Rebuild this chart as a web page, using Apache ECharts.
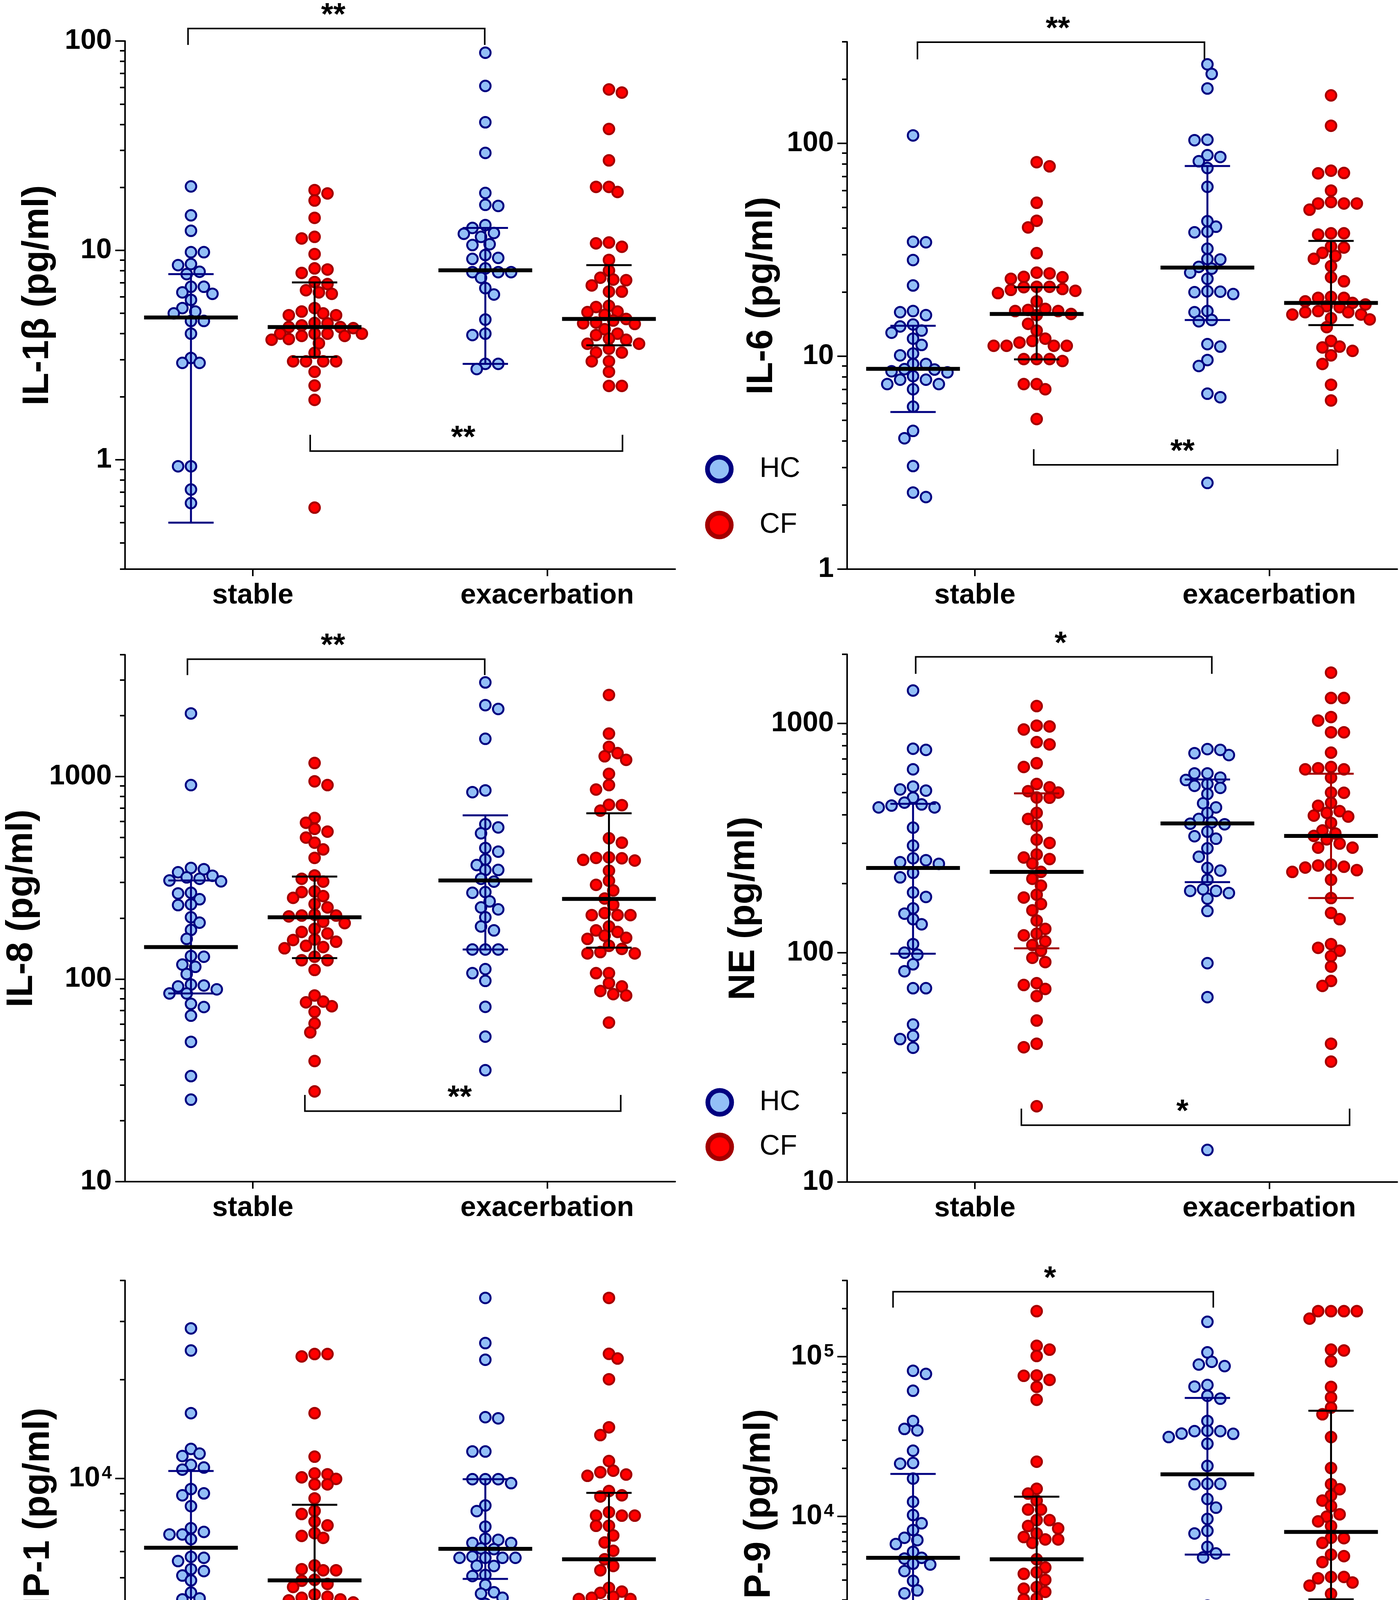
<!DOCTYPE html>
<html>
<head>
<meta charset="utf-8">
<script src="https://cdn.jsdelivr.net/npm/echarts@6/dist/echarts.min.js"></script>
<style>
html, body { margin: 0; padding: 0; background: #fff; }
#main { width: 3583px; height: 4722px; }
</style>
</head>
<body>
<div id="main"></div>
<script>
// categories
const groups = ['stable', 'exacerbation'];
const cohorts = ['HC', 'CF'];

// IL-1β (pg/ml)
const il1bHcStable = [20.2, 14.7, 12.4, 9.8, 9.8, 8.6, 8.5, 7.7, 7.9, 6.7, 6.3, 6.7, 6.2, 5.8, 5.3, 5.1, 5.0, 4.6, 4.6, 4.0, 3.06, 2.9, 2.9, 0.93, 0.93, 0.72, 0.62];
const il1bCfStable = [19.4, 18.7, 17.3, 14.3, 11.6, 11.4, 9.6, 8.1, 8.2, 7.8, 7.06, 6.9, 6.2, 6.45, 6.3, 5.3, 5.1, 4.9, 4.9, 5.0, 4.5, 4.48, 4.38, 4.25, 4.3, 4.3, 4.0, 4.0, 4.0, 4.0, 3.9, 3.9, 3.77, 3.74, 3.6, 3.24, 2.95, 2.95, 2.95, 2.95, 2.63, 2.26, 1.93, 0.59];
const il1bHcExac = [87.9, 61, 40.9, 29.2, 18.8, 16.5, 16.3, 12.8, 13.2, 12.1, 11.6, 12.0, 10.7, 10.6, 9.5, 9.1, 9.2, 8.2, 7.87, 7.87, 7.87, 7.4, 6.6, 6.15, 4.67, 4.0, 3.94, 2.87, 2.87, 2.71];
const il1bCfExac = [58.7, 56.7, 38.0, 26.9, 20.1, 20.1, 19.0, 10.9, 10.8, 10.4, 9.0, 8.0, 7.4, 6.8, 7.2, 7.25, 6.35, 6.35, 5.43, 5.36, 5.1, 5.07, 4.7, 4.92, 4.62, 4.52, 4.48, 4.45, 4.2, 3.94, 4.0, 3.79, 3.74, 3.58, 3.58, 3.39, 3.25, 3.25, 2.95, 2.95, 2.63, 2.25, 2.25];
// median and bar ends: HC stable, CF stable, HC exac, CF exac
const il1bMedian = [4.78, 4.3, 8.03, 4.7];
const il1bLow = [0.5, 3.1, 2.87, 3.52];
const il1bHigh = [7.7, 7.03, 12.8, 8.5];

// IL-6
const il6HcStable = [109, 34.5, 34.3, 28.3, 21.5, 16.3, 16.1, 15.6, 14.1, 13.8, 12.9, 13.2, 12.1, 11.3, 10.3, 10.1, 9.2, 9.2, 8.66, 8.4, 8.5, 8.7, 7.76, 8.06, 7.76, 7.4, 7.4, 7.0, 5.8, 4.46, 4.12, 3.05, 2.18, 2.29];
const il6CfStable = [81.6, 78, 52.6, 40.3, 43.3, 30.5, 24.7, 24.5, 23.1, 23.6, 23.5, 21.2, 21.2, 21.1, 19.8, 20.7, 20.3, 20.5, 18.1, 16.7, 16.5, 16.3, 16.3, 15.6, 15.8, 14.2, 13.2, 11.8, 12.1, 11.6, 11.2, 11.2, 11.2, 11.2, 9.7, 9.7, 9.7, 9.5, 7.4, 7.4, 7.0, 5.07];
const il6HcExac = [235, 212, 181, 103.5, 104, 86.3, 88, 82.4, 76.6, 62.5, 43.1, 40.6, 38.5, 38.2, 32, 28.5, 28.6, 25.8, 26.3, 24.7, 23.1, 20.0, 20.1, 20.2, 19.6, 16.3, 16.1, 14.8, 14.6, 11.4, 11.1, 9.6, 9.0, 6.67, 6.42, 2.54];
const il6CfExac = [168, 121, 74.4, 72.6, 72.3, 60, 53, 52.2, 52.2, 52.2, 48.8, 37.8, 37.8, 37.3, 30.6, 32.8, 32.4, 29.6, 28.7, 26.5, 23.5, 22.5, 18.8, 19.0, 18.8, 17.0, 18.1, 17.2, 17.5, 17.8, 15.7, 16.1, 16.1, 16.3, 15.7, 14.9, 15.1, 13.7, 11.8, 11.0, 10.6, 11.1, 10.1, 9.2, 7.35, 6.2];
const il6Median = [8.73, 15.8, 26.1, 17.8];
const il6Low = [5.47, 9.67, 14.8, 14.0];
const il6High = [13.9, 21.1, 78.3, 34.8];

// IL-8
const il8HcStable = [2051, 908, 354, 349, 337, 313, 318, 324, 304, 307, 265, 267, 248, 232, 234, 202, 190, 175, 158, 130, 129, 115, 118, 106, 92, 93, 94, 89, 85, 85, 72.8, 75.5, 66, 49, 33.2, 25.4];
const il8CfStable = [1167, 908, 948, 625, 592, 552, 535, 500, 472, 437, 397, 325, 313, 303, 271, 269, 257, 252, 235, 226, 208, 204, 206, 206, 192, 189, 177, 168, 171, 157, 156, 153, 144, 146, 142, 129, 124, 124, 111, 83, 73.5, 77.5, 76.8, 69, 60.4, 54.6, 39.4, 27.9];
const il8HcExac = [2917, 2254, 2158, 1537, 838, 855, 582, 561, 525, 444, 426, 390, 366, 346, 346, 313, 303, 267, 269, 242, 226, 221, 202, 182, 174, 140, 140, 140, 112, 107, 98, 73, 52, 35.5];
const il8CfExac = [2530, 1630, 1403, 1306, 1260, 1210, 1032, 908, 863, 726, 723, 679, 496, 472, 399, 385, 397, 388, 395, 343, 306, 292, 274, 250, 233, 212, 207, 207, 207, 174, 182, 171, 158, 164, 160, 146, 141, 134, 134, 136, 107, 107, 92, 95.5, 87.4, 83, 84.3, 61];
const il8Median = [144, 202, 307, 249];
const il8Low = [85, 127, 140, 143];
const il8High = [307, 321, 644, 659];

// NE
const neHcStable = [1390, 766, 775, 630, 530, 515, 509, 474, 443, 430, 451, 430, 438, 351, 293, 248, 244, 253, 258, 223, 213, 183, 175, 156, 148, 140, 133, 109, 100, 98, 89, 83, 70, 70, 48.6, 43.4, 42, 38.5];
const neCfStable = [1189, 940, 977, 969, 809, 828, 670, 645, 544, 526, 506, 499, 475, 474, 407, 383, 358, 311, 301, 268, 260, 256, 245, 225, 210, 196, 179, 174, 163, 153, 138, 127, 121, 119, 112, 108, 102, 95, 91, 72.3, 73.6, 64.7, 69.5, 50.6, 40.1, 38.7, 21.4];
const neHcExac = [741, 727, 772, 766, 605, 605, 580, 566, 544, 534, 523, 492, 448, 430, 407, 383, 365, 363, 370, 337, 322, 314, 285, 262, 228, 234, 208, 172, 189, 186, 186, 182, 152, 90, 64, 13.8];
const neCfExac = [1664, 1290, 1290, 1065, 1028, 914, 914, 745, 637, 645, 630, 630, 580, 498, 499, 450, 437, 414, 407, 396, 392, 368, 341, 323, 331, 312, 299, 287, 287, 229, 237, 235, 240, 242, 225, 208, 173, 149, 140, 109, 105, 102, 96.6, 87, 75.3, 71.6, 40.1, 33.5];
const neMedian = [234, 225, 366, 323];
const neLow = [99, 104.5, 203, 173];
const neHigh = [446, 495, 569, 603];

// TIMP-1
const timpHcStable = [28600, 24500, 15800, 12300, 11900, 11700, 11000, 10800, 10640, 9290, 8890, 9010, 8240, 7060, 6760, 6760, 6880, 6540, 5610, 5780, 5740, 5300, 5230, 5070, 4900, 4500, 4290, 4320, 3915, 3915, 3570, 3370, 3300, 3010, 2990, 2460];
const timpCfStable = [23900, 23900, 23500, 15800, 11650, 10300, 10360, 10080, 9970, 9600, 9600, 8700, 7800, 7970, 7400, 7200, 6820, 6690, 6600, 5440, 5300, 5260, 5260, 4890, 4920, 4680, 4780, 4440, 4290, 4340, 4370, 4260, 4200, 4055, 3980, 3810, 3665, 3590, 3590, 3470, 3100, 3120, 3150, 2840, 2740, 2655, 2700, 2500, 2120];
const timpHcExac = [35400, 25800, 22960, 15240, 15360, 12080, 12080, 9950, 9950, 9950, 9680, 8280, 7960, 7140, 6560, 6510, 6370, 6370, 6100, 6130, 5790, 5740, 5740, 5740, 5740, 5430, 5420, 5050, 5090, 4750, 4510, 4340, 4465, 4090, 4160, 2515, 1637, 1160];
const timpCfExac = [35400, 23930, 23160, 20030, 14310, 13550, 11300, 10560, 10450, 10190, 10280, 9160, 8820, 8890, 7900, 7710, 7710, 7710, 7180, 7180, 6710, 6390, 6030, 5680, 5420, 5260, 4650, 4530, 4490, 4340, 4370, 4300, 4300, 4110, 3705, 3433, 3548, 3415, 3350, 3215, 3110, 3135, 3060, 2923, 2820, 2735, 2445, 1290];
const timpMedian = [6160, 4900, 6110, 5680];
const timpLow = [4190, 3625, 4950, 3490];
const timpHigh = [10540, 8320, 9950, 9040];

// MMP-9
const mmpHcStable = [78000, 81600, 61200, 39600, 35300, 34600, 25800, 21400, 21600, 17260, 12360, 10200, 9060, 8220, 7350, 7110, 6720, 6000, 5450, 5510, 5000, 5060, 4550, 3950, 3445, 3300, 2360, 2400, 1600, 1327, 1349, 1219, 1165, 1064, 605, 496, 537];
const mmpCfStable = [192700, 117000, 110700, 101000, 71600, 76300, 75900, 64700, 53700, 22000, 14900, 13900, 12570, 11040, 11040, 9480, 9480, 8710, 8410, 7180, 7430, 7180, 7820, 6830, 5390, 4790, 4370, 4470, 4010, 3530, 3610, 3370, 3060, 3030, 1980, 1870, 1617, 1644, 1304, 1334, 1219, 1165, 935, 724, 762, 666, 424, 228, 157];
const mmpHcExac = [165300, 106400, 92900, 89300, 87300, 66500, 65000, 56900, 54600, 39600, 34400, 34200, 33000, 34200, 31400, 32900, 28500, 20700, 16000, 15920, 16000, 12850, 11350, 9640, 8130, 7820, 6450, 5540, 5870, 2765, 2470, 2510, 2145, 1634, 1420, 935];
const mmpCfExac = [192700, 192700, 192700, 192700, 173000, 110700, 109400, 93500, 64700, 55600, 48000, 43600, 31400, 20100, 15930, 14800, 13530, 12570, 11610, 10310, 9970, 9310, 8710, 7310, 7350, 6830, 5770, 5640, 5180, 4180, 4180, 4100, 3860, 3690, 3275, 2830, 2440, 2206, 2005, 1893, 1740, 1634, 1600, 1460, 1396, 962, 546];
const mmpMedian = [5510, 5390, 18360, 8000];
const mmpLow = [1537, 1617, 5770, 3030];
const mmpHigh = [18460, 13300, 55200, 45900];

const FONT = '"Liberation Sans", Arial, Helvetica, sans-serif';
const HC_FILL = '#93BFF6';
const HC_EDGE = '#000080';
const CF_FILL = '#FF0000';
const CF_EDGE = '#A30000';
const X_MIN = -0.434, X_MAX = 1.435;
const GRID_W = 1408;
const GROUP_X = [-0.21, 0.21, 0.79, 1.21];
const STEP = 11, DOT_GAP = 25;

const panels = [
  { title: 'IL-1β (pg/ml)', sets: [il1bHcStable, il1bCfStable, il1bHcExac, il1bCfExac], med: il1bMedian, lo: il1bLow, hi: il1bHigh,
    min: 0.3, max: 100, majors: [1, 10, 100], sup: false, left: 320, top: 105, height: 1352, nameGap: 176, cfBar: '#000',
    brackets: [{ x1: -0.22, x2: 0.788, y: 114.7, tick: 95.8, text: '**' }, { x1: 0.195, x2: 1.256, y: 1.099, tick: 1.316, text: '**' }] },
  { title: 'IL-6 (pg/ml)', sets: [il6HcStable, il6CfStable, il6HcExac, il6CfExac], med: il6Median, lo: il6Low, hi: il6High,
    min: 1, max: 300, majors: [1, 10, 100], sup: false, left: 2168, top: 107, height: 1350, nameGap: 171, cfBar: '#000',
    brackets: [{ x1: -0.195, x2: 0.78, y: 298.7, tick: 248, text: '**' }, { x1: 0.2, x2: 1.232, y: 3.09, tick: 3.66, text: '**' }],
    legend: { cx: 1841, cy: [1201, 1344], tx: 1944 } },
  { title: 'IL-8 (pg/ml)', sets: [il8HcStable, il8CfStable, il8HcExac, il8CfExac], med: il8Median, lo: il8Low, hi: il8High,
    min: 10, max: 4000, majors: [10, 100, 1000], sup: false, left: 320, top: 1676, height: 1349, nameGap: 217, cfBar: '#000',
    brackets: [{ x1: -0.222, x2: 0.788, y: 3802, tick: 3170, text: '**' }, { x1: 0.177, x2: 1.25, y: 22.3, tick: 26.8, text: '**' }] },
  { title: 'NE (pg/ml)', sets: [neHcStable, neCfStable, neHcExac, neCfExac], med: neMedian, lo: neLow, hi: neHigh,
    min: 10, max: 2000, majors: [10, 100, 1000], sup: false, left: 2168, top: 1675, height: 1351, nameGap: 217, cfBar: '#A30000',
    brackets: [{ x1: -0.201, x2: 0.805, y: 1950, tick: 1644, text: '*' }, { x1: 0.158, x2: 1.273, y: 17.7, tick: 20.9, text: '*' }],
    legend: { cx: 1842, cy: [2822, 2936], tx: 1944 } },
  { title: 'TIMP-1 (pg/ml)', sets: [timpHcStable, timpCfStable, timpHcExac, timpCfExac], med: timpMedian, lo: timpLow, hi: timpHigh,
    min: 1000, max: 40000, majors: [1000, 10000], sup: true, left: 320, top: 3278, height: 1349, nameGap: 174, cfBar: '#000',
    brackets: [] },
  { title: 'MMP-9 (pg/ml)', sets: [mmpHcStable, mmpCfStable, mmpHcExac, mmpCfExac], med: mmpMedian, lo: mmpLow, hi: mmpHigh,
    min: 150, max: 300000, majors: [1000, 10000, 100000], sup: true, left: 2168, top: 3278, height: 1350, nameGap: 177, cfBar: '#000',
    brackets: [{ x1: -0.278, x2: 0.81, y: 255000, tick: 202900, text: '*' }, { x1: 0.22, x2: 1.335, y: 186.6, tick: 234, text: '*' }],
    legend: { cx: 1903, cy: [4515, 4630], tx: 2006 } }
];

function minorTicks(min, max, majors) {
  const out = [];
  for (let e = Math.floor(Math.log10(min)); e <= Math.ceil(Math.log10(max)); e++) {
    for (let k = 1; k <= 9; k++) {
      const v = k * Math.pow(10, e);
      if (v >= min * 0.999 && v <= max * 1.001 && majors.indexOf(v) < 0) out.push(v);
    }
  }
  return out;
}

// GraphPad style column scatter: push dots sideways until they stop overlapping
function swarm(values, pxPerDec) {
  const order = values.map((v, i) => i).sort((a, b) => values[b] - values[a]);
  const placed = [];
  const out = [];
  let side = 1;
  order.forEach(i => {
    const y = Math.log10(values[i]) * pxPerDec;
    let x = null;
    for (let k = 0; x === null && k < 80; k++) {
      const cands = k === 0 ? [0] : [side * k * STEP, -side * k * STEP];
      for (const c of cands) {
        if (placed.every(p => (p.x - c) * (p.x - c) + (p.y - y) * (p.y - y) >= DOT_GAP * DOT_GAP)) { x = c; break; }
      }
    }
    if (x !== 0) side = x > 0 ? -1 : 1;
    placed.push({ x: x, y: y });
    out[i] = x;
  });
  return out;
}

function tickLabel(p) {
  return function (v) {
    const e = Math.round(Math.log10(v));
    if (p.sup) return '{b|10}{s|' + e + '}';
    return String(Math.round(v));
  };
}

const option = { animation: false, backgroundColor: '#fff', grid: [], xAxis: [], yAxis: [], series: [], graphic: [] };
const pxPerX = GRID_W / (X_MAX - X_MIN);

panels.forEach((p, i) => {
  option.grid.push({ left: p.left, top: p.top, width: GRID_W, height: p.height, containLabel: false, outerBoundsMode: 'none' });
  option.xAxis.push({
    type: 'value', gridIndex: i, min: X_MIN, max: X_MAX, splitLine: { show: false },
    axisLine: { onZero: false, lineStyle: { color: '#000', width: 4 } },
    axisTick: { customValues: [0, 1], length: 18, lineStyle: { color: '#000', width: 4 } },
    axisLabel: { customValues: [0, 1], formatter: v => groups[Math.round(v)], margin: 32, color: '#000', fontSize: 72, fontWeight: 'bold', fontFamily: FONT }
  });
  option.yAxis.push({
    type: 'log', logBase: 10, gridIndex: i, position: 'left', min: p.min, max: p.max,
    name: p.title, nameLocation: 'middle', nameGap: p.nameGap, nameRotate: 90,
    nameTextStyle: { color: '#000', fontSize: 94, fontWeight: 'bold', fontFamily: FONT, padding: [0, 0, 0, 50] },
    splitLine: { show: false },
    axisLine: { onZero: false, lineStyle: { color: '#000', width: 4 } },
    axisTick: { customValues: p.majors, length: 25, lineStyle: { color: '#000', width: 4 } },
    axisLabel: {
      customValues: p.majors, formatter: tickLabel(p), margin: 34, color: '#000', fontSize: 72, fontWeight: 'bold', fontFamily: FONT,
      rich: {
        b: { fontSize: 72, fontWeight: 'bold', fontFamily: FONT, color: '#000' },
        s: { fontSize: 46, fontWeight: 'bold', fontFamily: FONT, color: '#000', verticalAlign: 'top', padding: [0, 0, 0, 4] }
      }
    }
  });
  option.yAxis.push({
    type: 'log', logBase: 10, gridIndex: i, position: 'left', offset: 0, min: p.min, max: p.max,
    splitLine: { show: false }, axisLine: { show: false, onZero: false }, axisLabel: { show: false },
    axisTick: { customValues: minorTicks(p.min, p.max, p.majors), length: 13, lineStyle: { color: '#000', width: 4 } }
  });

  const pxPerDec = p.height / (Math.log10(p.max) - Math.log10(p.min));
  const points = [[], []];
  p.sets.forEach((vals, g) => {
    const offs = swarm(vals, pxPerDec);
    vals.forEach((v, k) => points[g % 2].push([GROUP_X[g] + offs[k] / pxPerX, v]));
  });

  cohorts.forEach((name, c) => {
    option.series.push({
      type: 'scatter', name: name, xAxisIndex: i, yAxisIndex: 2 * i, silent: true, z: 3,
      symbol: 'circle', symbolSize: 27,
      itemStyle: { color: c === 0 ? HC_FILL : CF_FILL, borderColor: c === 0 ? HC_EDGE : CF_EDGE, borderWidth: 5, opacity: 1 },
      data: points[c]
    });
  });

  const barColors = [HC_EDGE, p.cfBar];
  option.series.push({
    type: 'custom', xAxisIndex: i, yAxisIndex: 2 * i, silent: true, z: 5, clip: false,
    encode: { x: 0, y: [1, 2, 3] },
    data: GROUP_X.map((x, g) => [x, p.med[g], p.lo[g], p.hi[g]]),
    renderItem: function (params, api) {
      const x = api.value(0);
      const m = api.coord([x, api.value(1)]);
      const lo = api.coord([x, api.value(2)]);
      const hi = api.coord([x, api.value(3)]);
      const col = barColors[params.dataIndex % 2];
      const st = { stroke: col, lineWidth: 5 };
      return {
        type: 'group', children: [
          { type: 'line', shape: { x1: lo[0], y1: lo[1], x2: hi[0], y2: hi[1] }, style: st },
          { type: 'line', shape: { x1: lo[0] - 58, y1: lo[1], x2: lo[0] + 58, y2: lo[1] }, style: st },
          { type: 'line', shape: { x1: hi[0] - 58, y1: hi[1], x2: hi[0] + 58, y2: hi[1] }, style: st },
          { type: 'line', shape: { x1: m[0] - 120, y1: m[1], x2: m[0] + 120, y2: m[1] }, style: { stroke: '#000', lineWidth: 10 } }
        ]
      };
    }
  });

  if (p.brackets.length) {
    option.series.push({
      type: 'custom', xAxisIndex: i, yAxisIndex: 2 * i, silent: true, z: 6, clip: false,
      encode: { x: [0, 1], y: [2, 3] },
      data: p.brackets.map(b => [b.x1, b.x2, b.y, b.tick]),
      renderItem: function (params, api) {
        const a = api.coord([api.value(0), api.value(2)]);
        const b = api.coord([api.value(1), api.value(2)]);
        const ta = api.coord([api.value(0), api.value(3)]);
        return {
          type: 'group', children: [
            { type: 'polyline', shape: { points: [[ta[0], ta[1]], a, b, [b[0], ta[1]]] }, style: { stroke: '#000', lineWidth: 4, fill: null } },
            { type: 'text', style: { text: p.brackets[params.dataIndex].text, x: (a[0] + b[0]) / 2 - 8, y: a[1] - 32, align: 'center', verticalAlign: 'middle', font: 'bold 80px ' + FONT, fill: '#000' } }
          ]
        };
      }
    });
  }

  if (p.legend) {
    cohorts.forEach((name, c) => {
      option.graphic.push({ type: 'circle', shape: { cx: p.legend.cx, cy: p.legend.cy[c], r: 30.5 },
        style: { fill: c === 0 ? HC_FILL : CF_FILL, stroke: c === 0 ? HC_EDGE : CF_EDGE, lineWidth: 12 } });
      option.graphic.push({ type: 'text', style: { text: name, x: p.legend.tx, y: p.legend.cy[c], verticalAlign: 'middle',
        font: '72px "Liberation Sans Narrow", "Liberation Sans", Arial, sans-serif', fill: '#000' } });
    });
  }
});

const myChart = echarts.init(document.getElementById('main'));
myChart.setOption(option);
</script>
</body>
</html>
